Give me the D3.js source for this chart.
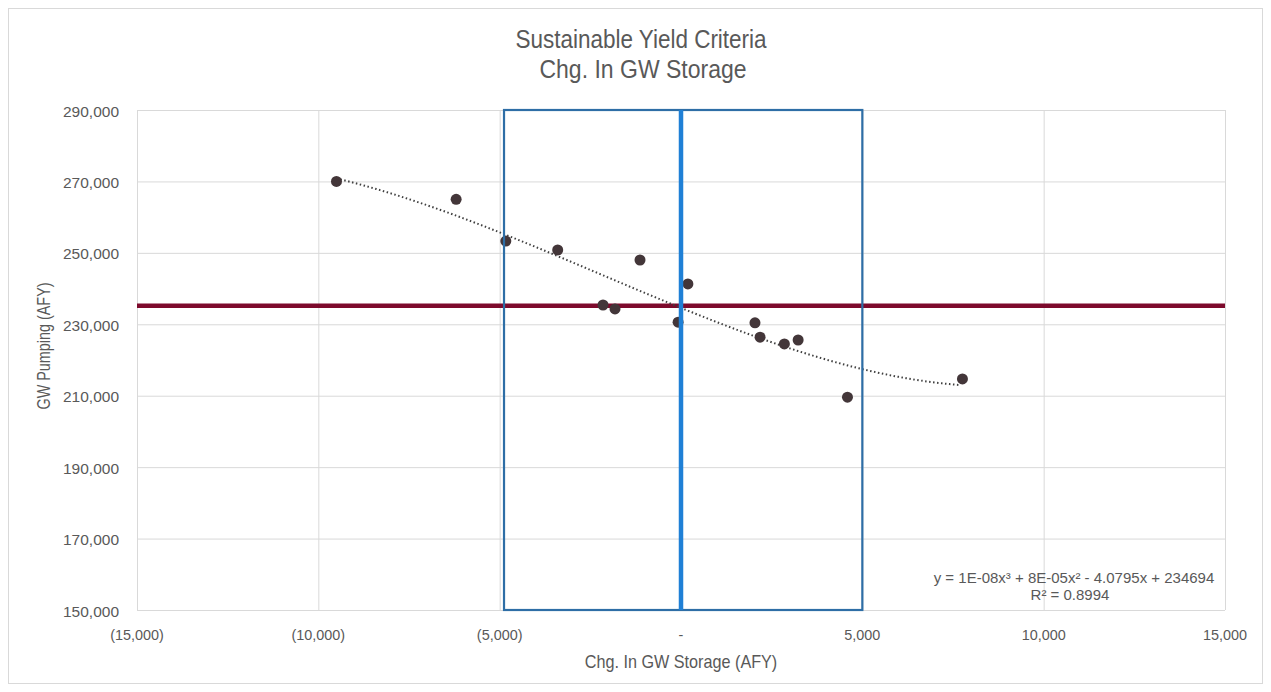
<!DOCTYPE html>
<html>
<head>
<meta charset="utf-8">
<script src="https://cdn.jsdelivr.net/npm/d3@7"></script>
<style>
  body { margin: 0; background: #fff; }
  text { font-family: "Liberation Sans", Arial, sans-serif; fill: #595959; }
</style>
</head>
<body>
<div id="chart"></div>
<script>
// data
var storageChange = [-9500, -6200, -4830, -3400, -1130, -2150, -1820, -80, 190, 2040, 2180, 2850, 3230, 4590, 7760];
var gwPumping     = [270000, 265000, 253300, 250800, 248000, 235400, 234300, 230600, 241300, 230400, 226400, 224500, 225600, 209600, 214700];
var xTicks = [-15000, -10000, -5000, 0, 5000, 10000, 15000];
var yTicks = [150000, 170000, 190000, 210000, 230000, 250000, 270000, 290000];
var yieldLine = 235200;           // red horizontal line
var boxRange = [-4880, 5000];     // blue box
var centerLine = 0;               // blue vertical line
var titleLines = ["Sustainable Yield Criteria", "Chg. In GW Storage"];
var xTitle = "Chg. In GW Storage (AFY)";
var yTitle = "GW Pumping (AFY)";
var equationText = "y = 1E-08x\u00B3 + 8E-05x\u00B2 - 4.0795x + 234694";
var r2Text = "R\u00B2 = 0.8994";

var chart = (function(options){
    var self = {};
    for (key in options){ self[key] = options[key]; }

    self.init = function(){
        self.svg = d3.select("#" + self.id_name).append("svg")
            .attr("width", self.width)
            .attr("height", self.height);

        // chart border
        self.svg.append("rect")
            .attr("x", 8.5).attr("y", 8.5)
            .attr("width", self.width - 17).attr("height", self.height - 17)
            .attr("fill", "#fff").attr("stroke", "#d9d9d9");

        self.x = d3.scaleLinear().domain([-15000, 15000]).range([137, 1225]);
        self.y = d3.scaleLinear().domain([150000, 290000]).range([610, 110]);
    };

    // condensed text (no narrow font installed, so squeeze horizontally)
    self.label = function(str, tx, ty, size, sx, rot){
        return self.svg.append("text")
            .attr("transform", "translate(" + tx + "," + ty + ")" + (rot ? " rotate(" + rot + ")" : "") + " scale(" + sx + ",1)")
            .attr("text-anchor", "middle")
            .style("font-size", size + "px")
            .text(str);
    };

    // cubic least squares fit for the trendline
    self.fit = function(xs, ys){
        var n = 4, A = [], b = [];
        for (var i = 0; i < n; i++){ A.push([0,0,0,0]); b.push(0); }
        xs.forEach(function(xv, k){
            var t = xv / 1000;
            for (var i = 0; i < n; i++){
                for (var j = 0; j < n; j++) A[i][j] += Math.pow(t, i + j);
                b[i] += ys[k] * Math.pow(t, i);
            }
        });
        for (var c = 0; c < n; c++){
            var p = c;
            for (var r = c + 1; r < n; r++) if (Math.abs(A[r][c]) > Math.abs(A[p][c])) p = r;
            var tmp = A[c]; A[c] = A[p]; A[p] = tmp;
            var tb = b[c]; b[c] = b[p]; b[p] = tb;
            for (var r = c + 1; r < n; r++){
                var f = A[r][c] / A[c][c];
                for (var j = c; j < n; j++) A[r][j] -= f * A[c][j];
                b[r] -= f * b[c];
            }
        }
        var coef = [0,0,0,0];
        for (var r = n - 1; r >= 0; r--){
            var s = b[r];
            for (var j = r + 1; j < n; j++) s -= A[r][j] * coef[j];
            coef[r] = s / A[r][r];
        }
        return function(xv){
            var t = xv / 1000;
            return coef[0] + coef[1]*t + coef[2]*t*t + coef[3]*t*t*t;
        };
    };

    self.render = function(){
        var svg = self.svg, x = self.x, y = self.y;

        // gridlines
        svg.append("g").selectAll("line").data(yTicks).join("line")
            .attr("x1", x(-15000)).attr("x2", x(15000))
            .attr("y1", function(d){ return y(d) + 0.5; }).attr("y2", function(d){ return y(d) + 0.5; })
            .attr("stroke", "#d9d9d9");
        svg.append("g").selectAll("line").data(xTicks).join("line")
            .attr("y1", y(150000)).attr("y2", y(290000))
            .attr("x1", function(d){ return x(d) + 0.5; }).attr("x2", function(d){ return x(d) + 0.5; })
            .attr("stroke", "#d9d9d9");

        // tick labels
        var xFmt = function(d){
            if (d === 0) return "-";
            var s = d3.format(",")(Math.abs(d));
            return d < 0 ? "(" + s + ")" : s;
        };
        svg.append("g").selectAll("text").data(xTicks).join("text")
            .attr("transform", function(d){ return "translate(" + x(d) + ",640) scale(0.93,1)"; })
            .attr("text-anchor", "middle").style("font-size", "15.5px")
            .text(xFmt);
        svg.append("g").selectAll("text").data(yTicks).join("text")
            .attr("transform", function(d){ return "translate(119," + (y(d) + 6.5) + ")"; })
            .attr("text-anchor", "end").style("font-size", "15.5px")
            .text(d3.format(","));

        // titles
        self.label(titleLines[0], 641, 48, 25, 0.9);
        self.label(titleLines[1], 643, 78, 25, 0.92);
        self.label(xTitle, 681, 668, 18, 0.9);
        self.label(yTitle, 50, 346, 18, 0.8, -90);

        // red yield line
        svg.append("line")
            .attr("x1", x(-15000)).attr("x2", x(15000))
            .attr("y1", y(yieldLine)).attr("y2", y(yieldLine))
            .attr("stroke", "#7d0a2c").attr("stroke-width", 4.5);

        // trendline
        var f = self.fit(storageChange, gwPumping);
        var xs = d3.range(d3.min(storageChange), d3.max(storageChange) + 1, 100);
        svg.append("path")
            .datum(xs)
            .attr("d", d3.line().x(function(d){ return x(d); }).y(function(d){ return y(f(d)); }))
            .attr("fill", "none").attr("stroke", "#404040")
            .attr("stroke-width", 2).attr("stroke-dasharray", "1.5,2.5");

        // points
        svg.append("g").selectAll("circle").data(storageChange).join("circle")
            .attr("cx", function(d){ return x(d); })
            .attr("cy", function(d, i){ return y(gwPumping[i]); })
            .attr("r", 5.5).attr("fill", "#433639");

        // blue box and center line
        svg.append("rect")
            .attr("x", x(boxRange[0])).attr("y", y(290000))
            .attr("width", x(boxRange[1]) - x(boxRange[0]))
            .attr("height", y(150000) - y(290000))
            .attr("fill", "none").attr("stroke", "#2e6ea6").attr("stroke-width", 2.2);
        svg.append("line")
            .attr("x1", x(centerLine)).attr("x2", x(centerLine))
            .attr("y1", y(290000)).attr("y2", y(150000))
            .attr("stroke", "#1f80d6").attr("stroke-width", 4.5);

        // equation label
        svg.append("text").attr("x", 1074).attr("y", 583).attr("text-anchor", "middle")
            .style("font-size", "15px").text(equationText);
        svg.append("text").attr("x", 1070).attr("y", 600).attr("text-anchor", "middle")
            .style("font-size", "15px").text(r2Text);
    };

    self.init();
    return self;
})({ id_name: "chart", width: 1271, height: 692 });

chart.render();
</script>
</body>
</html>
